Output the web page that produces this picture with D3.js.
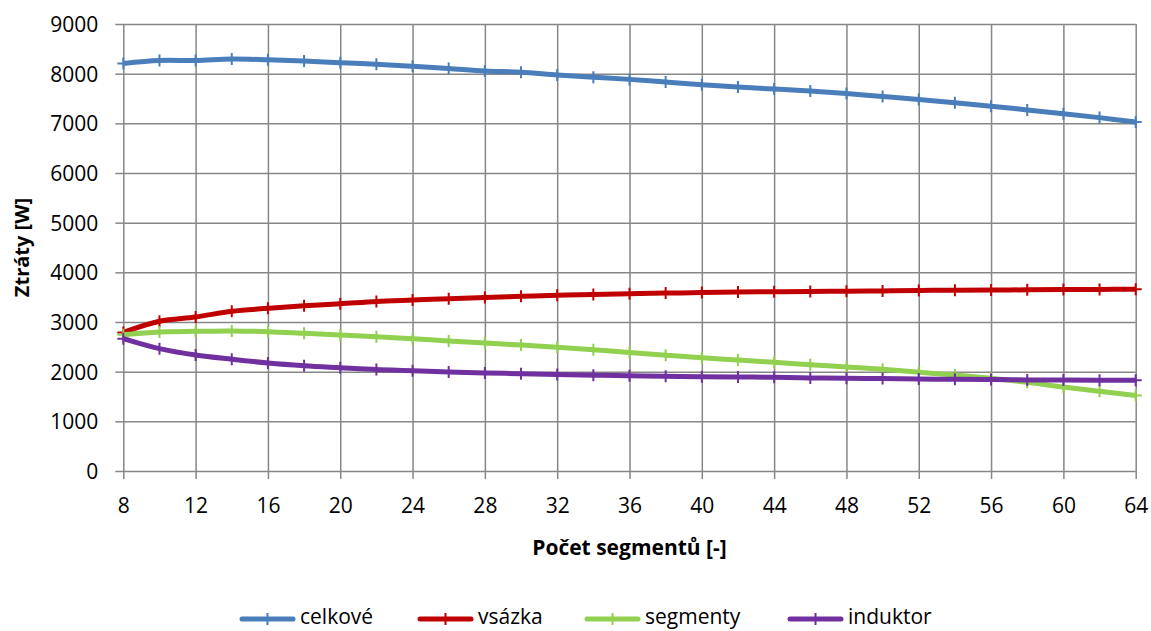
<!DOCTYPE html>
<html>
<head>
<meta charset="utf-8">
<script src="https://cdn.jsdelivr.net/npm/d3@7"></script>
<style>
  html, body { margin: 0; padding: 0; background: #fff; }
  svg { display: block; }
  text { font-family: "Open Sans", "Noto Sans", sans-serif; fill: #000; }
</style>
</head>
<body>
<svg id="chart" width="1151" height="631"></svg>
<script>
const segments = [8,10,12,14,16,18,20,22,24,26,28,30,32,34,36,38,40,42,44,46,48,50,52,54,56,58,60,62,64];
const celkove  = [8205,8265,8265,8295,8280,8255,8220,8190,8150,8105,8055,8030,7975,7930,7885,7830,7775,7730,7690,7650,7600,7540,7480,7415,7345,7270,7195,7115,7025];
const vsazka   = [2790,3015,3100,3215,3275,3328,3368,3415,3443,3470,3495,3518,3540,3555,3570,3582,3592,3602,3610,3615,3620,3626,3636,3640,3644,3648,3652,3655,3660];
const segmenty = [2745,2800,2812,2820,2805,2772,2738,2704,2664,2617,2575,2535,2490,2440,2385,2332,2281,2235,2188,2140,2094,2047,1988,1933,1866,1786,1692,1604,1518];
const induktor = [2665,2463,2335,2250,2175,2120,2080,2042,2020,1993,1975,1960,1945,1930,1918,1907,1899,1893,1886,1874,1866,1860,1852,1846,1840,1834,1832,1828,1826];
const seriesNames  = ["celkové","vsázka","segmenty","induktor"];
const seriesColors = ["#4a7ebb","#c00000","#92d050","#7030a0"];
const xTicks = [8,12,16,20,24,28,32,36,40,44,48,52,56,60,64];
const yTicks = [0,1000,2000,3000,4000,5000,6000,7000,8000,9000];
const xTitle = "Počet segmentů [-]";
const yTitle = "Ztráty [W]";

const allSeries = [celkove, vsazka, segmenty, induktor];

const svg = d3.select("#chart");
const x = d3.scaleLinear().domain([8,64]).range([123.3, 1135.7]);
const y = d3.scaleLinear().domain([0,9000]).range([471, 24]);
const gridColor = "#878787";

// horizontal grid + y axis ticks
const yAxis = d3.axisLeft(y).tickValues(yTicks).tickSize(8).tickPadding(17).tickFormat(d3.format("d"));
const gy = svg.append("g").attr("transform", `translate(${x(8)},0)`).call(yAxis);
gy.select(".domain").remove();
gy.selectAll(".tick line").attr("stroke", gridColor).attr("stroke-width", 1.5);
gy.selectAll(".tick").append("line")
  .attr("x1", 0).attr("x2", x(64) - x(8))
  .attr("stroke", gridColor).attr("stroke-width", 1.5);
gy.selectAll(".tick text").style("font-size", "21px").attr("dy", "0.36em");

// vertical grid + x axis ticks
const xAxis = d3.axisBottom(x).tickValues(xTicks).tickSize(8).tickPadding(19).tickFormat(d3.format("d"));
const gx = svg.append("g").attr("transform", `translate(0,${y(0)})`).call(xAxis);
gx.select(".domain").remove();
gx.selectAll(".tick line").attr("stroke", gridColor).attr("stroke-width", 1.5);
gx.selectAll(".tick").append("line")
  .attr("y1", 0).attr("y2", y(9000) - y(0))
  .attr("stroke", gridColor).attr("stroke-width", 1.5);
gx.selectAll(".tick text").style("font-size", "21px");

// axis titles
svg.append("text")
  .attr("x", (x(8) + x(64)) / 2).attr("y", 555)
  .attr("text-anchor", "middle")
  .style("font-size", "21px").style("font-weight", "bold")
  .text(xTitle);
svg.append("text")
  .attr("transform", `translate(29,${(y(0)+y(9000))/2}) rotate(-90)`)
  .attr("text-anchor", "middle")
  .style("font-size", "20px").style("font-weight", "bold")
  .text(yTitle);

// lines
const line = d3.line()
  .x((d,i) => x(segments[i]))
  .y(d => y(d))
  .curve(d3.curveCatmullRom.alpha(0.5));

const markerHalf = 6;
function plusPath(cx, cy) {
  return `M${cx - markerHalf},${cy}H${cx + markerHalf}M${cx},${cy - markerHalf}V${cy + markerHalf}`;
}

allSeries.forEach((vals, si) => {
  const g = svg.append("g");
  g.append("path")
    .datum(vals)
    .attr("d", line)
    .attr("fill", "none")
    .attr("stroke", seriesColors[si])
    .attr("stroke-width", 5)
    .attr("stroke-linejoin", "round");
  g.selectAll("path.m")
    .data(vals)
    .join("path")
    .attr("class", "m")
    .attr("d", (d,i) => plusPath(x(segments[i]), y(d)))
    .attr("stroke", seriesColors[si])
    .attr("stroke-width", 2)
    .attr("fill", "none");
});

// legend
const legendX = [242, 420, 587, 790];
const legendY = 619;
seriesNames.forEach((name, si) => {
  const g = svg.append("g").attr("transform", `translate(${legendX[si]},${legendY})`);
  g.append("line").attr("x1", 0).attr("x2", 51).attr("y1", 0).attr("y2", 0)
    .attr("stroke", seriesColors[si]).attr("stroke-width", 5).attr("stroke-linecap", "round");
  g.append("path").attr("d", plusPath(25.5, 0))
    .attr("stroke", seriesColors[si]).attr("stroke-width", 2);
  g.append("text").attr("x", 58).attr("y", 5)
    .style("font-size", "21px").text(name);
});
</script>
</body>
</html>
